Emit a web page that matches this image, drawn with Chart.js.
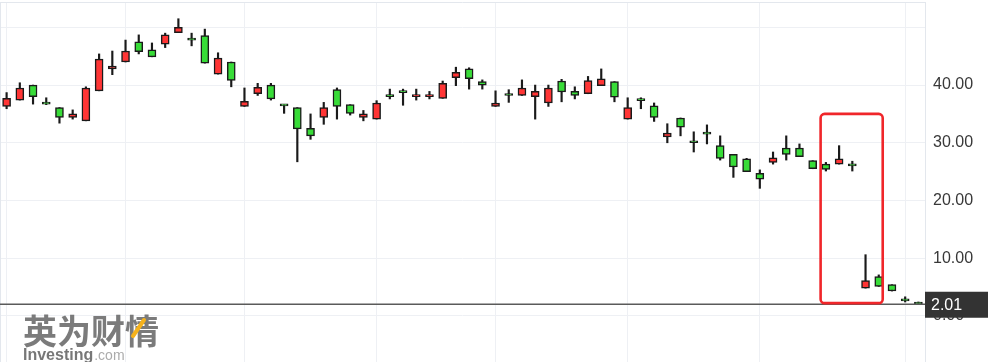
<!DOCTYPE html>
<html><head><meta charset="utf-8">
<script src="https://cdn.jsdelivr.net/npm/chart.js@4.4.0/dist/chart.umd.min.js"></script>
<style>html,body{margin:0;padding:0;background:#fff;overflow:hidden}#wrap{width:1000px;height:362px;position:relative}</style>
</head><body><div id="wrap"><canvas id="c" width="1000" height="362"></canvas></div>
<script>
// Weekly candles (70 weeks)
const weeks = Array.from({length: 70}, (_, i) => 'W' + (i + 1));
const openP  = [36.3,37.4,40.0,36.8,36.1,34.4,33.8,39.0,42.8,44.0,47.5,46.1,47.1,49.1,47.9,48.6,41.9,44.0,36.3,38.5,
                40.0,36.6,36.1,32.5,34.4,39.2,36.6,34.4,34.1,38.1,39.0,38.0,38.0,37.7,41.3,42.8,40.6,36.3,38.3,38.2,
                38.0,36.9,40.7,38.9,38.5,39.9,40.6,34.1,37.4,36.4,31.0,34.3,30.2,31.6,29.5,28.0,27.2,24.7,26.6,29.1,
                29.1,26.9,26.3,26.3,26.1,4.8,6.8,5.4,2.8,2.4];
const highP  = [38.7,40.4,40.0,37.8,36.1,35.7,39.7,45.4,45.9,47.8,48.7,47.3,49.0,51.5,49.0,49.7,45.6,44.0,39.5,40.3,
                40.3,36.6,36.1,35.0,37.0,39.5,36.6,35.6,37.3,39.3,39.3,39.3,38.9,40.7,43.1,43.0,40.9,39.0,39.2,40.9,
                40.0,40.0,41.0,39.7,41.5,42.8,40.6,37.8,37.8,36.9,33.3,34.3,31.9,33.1,31.2,28.0,27.3,25.3,28.4,31.2,
                29.8,26.9,26.6,29.5,26.8,10.6,7.1,5.4,3.3,2.4];
const lowP   = [35.9,37.4,36.7,36.6,33.4,34.1,33.8,39.0,41.8,44.0,45.4,44.9,46.5,49.1,46.8,43.8,41.9,39.7,36.3,38.2,
                37.4,35.1,26.7,30.6,33.2,34.1,34.8,33.8,34.1,37.6,36.5,37.4,37.6,37.7,39.9,39.3,39.3,36.3,37.0,38.2,
                34.1,36.3,37.1,37.6,38.5,39.9,37.1,34.1,35.9,33.7,30.0,31.2,28.4,29.8,27.0,24.0,25.0,22.1,26.3,27.0,
                27.6,25.5,25.1,26.3,25.1,4.8,5.1,4.3,2.4,2.01];
const closeP = [37.7,39.5,38.0,36.7,34.4,35.0,39.5,44.5,43.3,45.9,45.8,44.9,48.7,50.0,47.8,43.8,44.7,40.8,37.2,39.6,
                37.6,36.4,32.4,31.2,36.1,36.3,35.1,35.0,36.9,38.0,38.7,38.1,38.1,40.3,42.2,41.1,40.0,36.9,38.2,39.5,
                38.9,39.5,38.8,38.2,40.8,41.1,37.9,36.1,37.3,34.4,31.7,32.7,30.0,31.5,27.3,25.8,25.0,23.7,27.4,28.0,
                27.6,25.5,25.4,27.2,26.0,6.1,5.1,4.3,2.6,2.01];
const yTicks = [0, 10, 20, 30, 40, 50];
const gridWeeks = [0, 9, 18, 28, 37, 47, 57, 68];
const lastPrice = 2.01;
const highlight = {from: 61.6, to: 66.3, top: 35.0, bottom: 2.2};

const UP = '#ff3535', DOWN = '#38dc38', INK = '#1a1a1a', GRID = '#eef0f4';
const up = closeP.map((c, i) => c >= openP[i]);

const overlay = {
  id: 'overlay',
  beforeDatasetsDraw(chart) {
    const {ctx, chartArea: a} = chart;
    ctx.save();
    ctx.strokeStyle = '#e3e7ed'; ctx.lineWidth = 1;
    ctx.beginPath(); ctx.moveTo(a.left, a.top + 0.5); ctx.lineTo(a.right, a.top + 0.5);
    ctx.moveTo(a.left + 0.5, a.top); ctx.lineTo(a.left + 0.5, a.bottom); ctx.stroke();
    // watermark
    ctx.fillStyle = 'rgba(100,100,100,0.85)';
    ctx.font = 'bold 34px "Noto Sans CJK SC"';
    ctx.textBaseline = 'middle'; ctx.textAlign = 'left';
    ctx.fillText('英为财情', 23, 331);
    ctx.strokeStyle = '#f5b21c'; ctx.lineWidth = 4; ctx.lineCap = 'round';
    ctx.beginPath(); ctx.moveTo(133, 336); ctx.lineTo(144, 320); ctx.stroke();
    ctx.textBaseline = 'alphabetic';
    ctx.font = 'bold 16px "Liberation Sans"';
    ctx.fillStyle = 'rgba(95,95,95,0.85)';
    ctx.fillText('Investing', 23, 360);
    const w = ctx.measureText('Investing').width;
    ctx.font = '14px "Liberation Sans"';
    ctx.fillStyle = 'rgba(150,150,150,0.8)';
    ctx.fillText('.com', 23 + w + 1, 360);
    ctx.restore();
  },
  afterDraw(chart) {
    const {ctx, chartArea: a, scales: {x, y}} = chart;
    ctx.save();
    const py = y.getPixelForValue(lastPrice);
    ctx.strokeStyle = '#5a5a5a'; ctx.lineWidth = 1.5;
    ctx.beginPath(); ctx.moveTo(a.left, py); ctx.lineTo(a.right, py); ctx.stroke();
    // price label
    ctx.fillStyle = '#333333';
    ctx.fillRect(a.right, py - 12.5, 63, 26);
    ctx.fillStyle = '#ffffff';
    ctx.font = '16px "Liberation Sans"';
    ctx.textBaseline = 'middle'; ctx.textAlign = 'left';
    ctx.fillText(lastPrice.toFixed(2), a.right + 6, py + 1);
    // highlight box
    const x0 = x.getPixelForValue(highlight.from), x1 = x.getPixelForValue(highlight.to);
    const y0 = y.getPixelForValue(highlight.top), y1 = y.getPixelForValue(highlight.bottom);
    ctx.strokeStyle = '#f0262a'; ctx.lineWidth = 2.6;
    ctx.beginPath();
    ctx.roundRect(x0, y0, x1 - x0, y1 - y0, 4);
    ctx.stroke();
    ctx.restore();
  }
};

new Chart(document.getElementById('c'), {
  type: 'bar',
  data: {
    labels: weeks,
    datasets: [
      {label: 'body', data: openP.map((o, i) => [o, closeP[i]]),
       backgroundColor: up.map(u => u ? UP : DOWN), borderColor: INK, borderWidth: 1.5,
       borderSkipped: false, barThickness: 8, minBarLength: 2, grouped: false, order: 0},
      {label: 'wick', data: lowP.map((l, i) => [l, highP[i]]),
       backgroundColor: INK, borderWidth: 0, barThickness: 1.5, grouped: false, order: 1}
    ]
  },
  options: {
    responsive: false, animation: false, events: [],
    layout: {padding: {top: 2, left: 0, right: 0, bottom: 0}},
    plugins: {legend: {display: false}, tooltip: {enabled: false}},
    scales: {
      x: {
        grid: {offset: false, drawTicks: false,
               color: c => gridWeeks.includes(c.index) ? GRID : 'rgba(0,0,0,0)'},
        ticks: {display: false, autoSkip: false},
        border: {display: false},
        afterFit: s => { s.height = 0; s.paddingLeft = 0; s.paddingRight = 0; }
      },
      y: {
        position: 'right', min: -8, max: 54.4,
        afterBuildTicks: s => { s.ticks = yTicks.map(v => ({value: v})); },
        ticks: {callback: v => v === 50 ? '' : Number(v).toFixed(2), padding: 8, color: '#383838',
                font: {family: '"Liberation Sans", Arial', size: 16}},
        grid: {color: GRID, drawTicks: false},
        border: {display: true, color: '#e3e7ed'},
        afterFit: s => { s.width = 75; s.paddingTop = 0; s.paddingBottom = 0; }
      }
    }
  },
  plugins: [overlay]
});
</script></body></html>
